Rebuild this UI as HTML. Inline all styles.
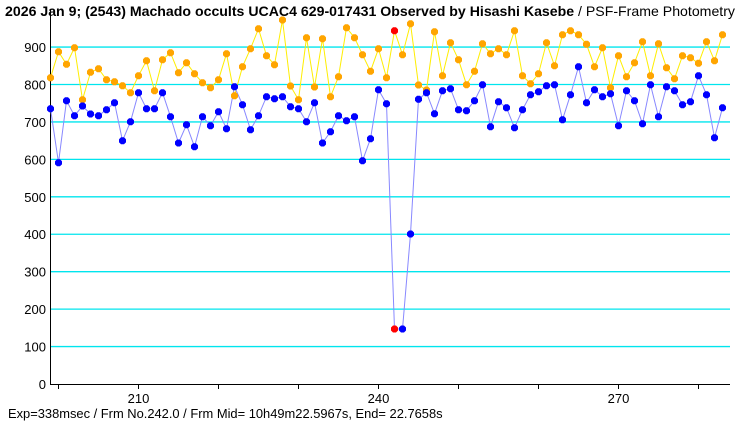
<!DOCTYPE html>
<html><head><meta charset="utf-8"><style>
body{margin:0;background:#fff;width:740px;height:425px;overflow:hidden}
svg{display:block;font-family:"Liberation Sans",sans-serif}
</style></head><body>
<svg id="s" width="740" height="425" xmlns="http://www.w3.org/2000/svg">
<text x="5" y="16" font-size="14" font-weight="bold" fill="#000" textLength="730" lengthAdjust="spacingAndGlyphs">2026 Jan 9; (2543) Machado occults UCAC4 629-017431 Observed by Hisashi Kasebe<tspan font-weight="normal"> / PSF-Frame Photometry</tspan></text>
<text x="8" y="418" font-size="12.9" fill="#000">Exp=338msec / Frm No.242.0 / Frm Mid= 10h49m22.5967s,  End= 22.7658s</text>
<g id="g"></g>
</svg>
<script>
var g=document.getElementById('g'),h='';
for(var k=0;k<=9;k++){var y=384-37.44*k;
 if(k>0)h+='<line x1="50" x2="730" y1="'+y+'" y2="'+y+'" stroke="#00e5ee" stroke-width="1.3"/>';
 h+='<text x="46" y="'+(y+5)+'" font-size="13" text-anchor="end">'+(k*100)+'</text>';}
h+='<line x1="50.5" y1="10" x2="50.5" y2="385" stroke="#000"/><line x1="50" y1="384.5" x2="730" y2="384.5" stroke="#000"/>';
for(var f=200;f<=280;f+=10){var x=58.5+(f-200)*8;h+='<line x1="'+x+'" x2="'+x+'" y1="384" y2="389" stroke="#000"/>';
 if(f==210||f==240||f==270)h+='<text x="'+x+'" y="403" font-size="13" text-anchor="middle">'+f+'</text>';}
var B=[108.7,162.7,100.7,115.7,106,114,115.7,109.7,102.7,140.7,121.7,92.7,108.7,108.7,92.7,116.7,143,124.7,146.7,116.7,125.7,111.7,128.7,86.7,104.7,129.7,115.7,96.7,98.7,
96.7,106.7,108.7,121.7,102.7,143,131.7,115.7,120.7,116.7,160.7,138.7,89.7,103.7,329,329,234,99.3,92.7,113.7,90.7,88.7,109.7,110.7,100.7,84.7,126.7,101.7,107.7,
127.7,109.7,94.7,91.7,85.7,84.7,119.7,94.7,66.7,102.7,89.7,96.7,93.7,125.7,90.7,100.7,123.7,84.7,116.7,86.7,90.7,104.7,101.7,75.7,94.7,137.7,107.7];
var O=[77.7,51.7,64.3,47.7,99.7,72.3,68.7,79.7,81.7,85.7,92.7,75.7,60.7,90.7,59.7,52.7,72.7,62.7,73.7,82.7,87.7,79.7,53.7,95.7,66.7,48.7,28.7,
55.7,64.7,20,86,99.7,37.7,87,38.7,96.7,76.7,27.7,37.7,54.7,71.3,48.7,77.7,30.7,54.7,23.7,85,90,31.7,75.7,42.7,59.7,84.7,71.3,43.7,53.7,48.7,54.7,
30.7,75.7,83.7,73.7,42.7,65.7,34.7,30.7,34.7,44.3,66.7,47.7,87.7,55.7,76.7,62.7,41.7,75.7,43.7,67.7,78.7,55.7,57.7,63.3,41.7,60.7,34.7];
function line(a,c){var p=a.map(function(y,i){return (50.5+8*i)+','+y}).join(' ');return '<polyline points="'+p+'" fill="none" stroke="'+c+'" stroke-width="1"/>';}
function mk(x,y,c){return '<path d="M'+(x-1.5)+' '+(y-3.5)+'h3l2 2v3l-2 2h-3l-2-2v-3z" fill="'+c+'"/>';}
h+=line(O,'#ffee00')+line(B,'#8888ff');
O.forEach(function(y,i){h+=mk(50.5+8*i,y,i==43?'#ff0000':'#ffa500')});
B.forEach(function(y,i){h+=mk(50.5+8*i,y,i==43?'#ff0000':'#0000ff')});
g.innerHTML=h;
</script>
</body></html>
